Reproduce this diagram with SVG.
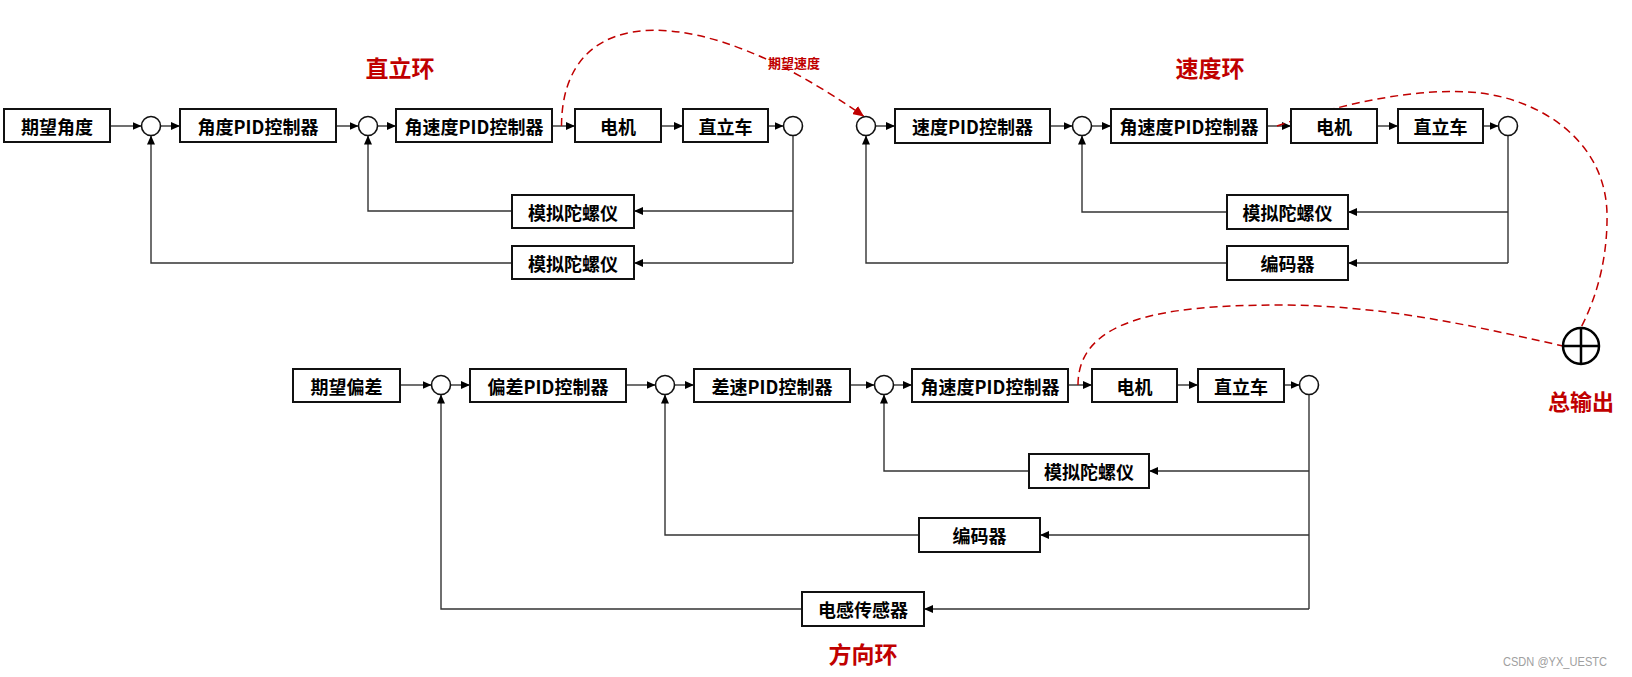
<svg xmlns="http://www.w3.org/2000/svg" width="1632" height="677" viewBox="0 0 1632 677">
<style>
.box{fill:#fff;stroke:#111;stroke-width:2}
.t{font-family:"Noto Sans CJK SC","Liberation Sans",sans-serif;font-weight:bold;font-size:18px;fill:#000;text-anchor:middle;dominant-baseline:central}
.title{font-family:"Noto Sans CJK SC","Liberation Sans",sans-serif;font-weight:bold;font-size:23px;fill:#C00000;text-anchor:middle;dominant-baseline:central}
.sum{fill:#fff;stroke:#111;stroke-width:1.6}
.ln{fill:none;stroke:#333;stroke-width:1.4}
.ar{marker-end:url(#arr)}
.dash{fill:none;stroke:#C00000;stroke-width:1.5;stroke-dasharray:8 5}
</style>
<defs>
<marker id="arr" markerUnits="userSpaceOnUse" markerWidth="9" markerHeight="8" refX="9" refY="4" orient="auto">
<path d="M0,0 L9,4 L0,8 z" fill="#000"/>
</marker>
<marker id="arrR" markerUnits="userSpaceOnUse" markerWidth="11" markerHeight="10" refX="11" refY="5" orient="auto">
<path d="M0,0 L11,5 L0,10 z" fill="#C00000"/>
</marker>
</defs>
<rect width="1632" height="677" fill="#fff"/>

<g id="titles">
<text class="title" x="400" y="67">直立环</text>
<text class="title" x="1210" y="67">速度环</text>
<text class="title" x="863" y="653">方向环</text>
<text class="title" x="1581" y="400" style="font-size:22px">总输出</text>
<text x="794" y="62.5" style="font-family:'Noto Sans CJK SC','Liberation Sans',sans-serif;font-weight:bold;font-size:13px;fill:#C00000;text-anchor:middle;dominant-baseline:central">期望速度</text>
</g>

<g id="connectors">
<!-- row 1 upright loop -->
<path class="ln ar" d="M110,126 H141.5"/>
<path class="ln ar" d="M160.5,126 H180"/>
<path class="ln ar" d="M336,126 H358.5"/>
<path class="ln ar" d="M377.5,126 H396"/>
<path class="ln ar" d="M552,126 H575"/>
<path class="ln ar" d="M661,126 H683"/>
<path class="ln ar" d="M768,126 H783.5"/>
<path class="ln" d="M793,135.5 V263"/>
<path class="ln ar" d="M793,211 H634"/>
<path class="ln ar" d="M793,263 H634"/>
<path class="ln ar" d="M512,211 H368 V135.5"/>
<path class="ln ar" d="M512,263 H151 V135.5"/>
<!-- row 1 speed loop -->
<path class="ln ar" d="M875.5,126 H895"/>
<path class="ln ar" d="M1050,126 H1072.5"/>
<path class="ln ar" d="M1091.5,126 H1111"/>
<path class="ln ar" d="M1267,126 H1291"/>
<path class="ln ar" d="M1377,126 H1398"/>
<path class="ln ar" d="M1483,126 H1498.5"/>
<path class="ln" d="M1508,135.5 V263"/>
<path class="ln ar" d="M1508,212 H1348"/>
<path class="ln ar" d="M1508,263 H1348"/>
<path class="ln ar" d="M1227,212 H1082 V135.5"/>
<path class="ln ar" d="M1227,263 H866 V135.5"/>
<!-- row 2 direction loop -->
<path class="ln ar" d="M400,385 H431.5"/>
<path class="ln ar" d="M450.5,385 H470"/>
<path class="ln ar" d="M626,385 H655.5"/>
<path class="ln ar" d="M674.5,385 H694"/>
<path class="ln ar" d="M850,385 H874.5"/>
<path class="ln ar" d="M893.5,385 H912"/>
<path class="ln ar" d="M1068,385 H1092"/>
<path class="ln ar" d="M1177,385 H1198"/>
<path class="ln ar" d="M1284,385 H1299.5"/>
<path class="ln" d="M1309,394.5 V609"/>
<path class="ln ar" d="M1309,471 H1149"/>
<path class="ln ar" d="M1309,535 H1040"/>
<path class="ln ar" d="M1309,609 H924"/>
<path class="ln ar" d="M1029,471 H884 V394.5"/>
<path class="ln ar" d="M919,535 H665 V394.5"/>
<path class="ln ar" d="M802,609 H441 V394.5"/>
<!-- red dashed links -->
<path class="dash" d="M561.5,126 C562,0 700,0 864,116.5" marker-end="url(#arrR)"/>
<path class="dash" d="M1277,126 C1340,104 1420,86 1480,93 C1540,100 1605,140 1607,213 C1608,270 1590,310 1581,327.5"/>
<path class="dash" d="M1078,385 C1078,320 1160,305 1280,305 C1380,305 1470,325 1563,346"/>
</g>

<!-- row 1 upright loop nodes -->
<g id="n_qwjd"><rect class="box" x="4" y="109" width="106" height="33"/><text class="t" x="57" y="125.5">期望角度</text></g>
<g id="s1"><circle class="sum" cx="151" cy="126" r="9.5"/></g>
<g id="n_jdpid"><rect class="box" x="180" y="109" width="156" height="33"/><text class="t" x="258" y="125.5">角度PID控制器</text></g>
<g id="s2"><circle class="sum" cx="368" cy="126" r="9.5"/></g>
<g id="n_jsdpid1"><rect class="box" x="396" y="109" width="156" height="33"/><text class="t" x="474" y="125.5">角速度PID控制器</text></g>
<g id="n_dj1"><rect class="box" x="575" y="109" width="86" height="33"/><text class="t" x="618" y="125.5">电机</text></g>
<g id="n_zlc1"><rect class="box" x="683" y="109" width="85" height="33"/><text class="t" x="725.5" y="125.5">直立车</text></g>
<g id="s3"><circle class="sum" cx="793" cy="126" r="9.5"/></g>
<g id="n_tly1a"><rect class="box" x="512" y="195" width="122" height="33"/><text class="t" x="573" y="211.5">模拟陀螺仪</text></g>
<g id="n_tly1b"><rect class="box" x="512" y="246" width="122" height="33"/><text class="t" x="573" y="262.5">模拟陀螺仪</text></g>

<!-- row 1 speed loop nodes -->
<g id="s4"><circle class="sum" cx="866" cy="126" r="9.5"/></g>
<g id="n_sdpid"><rect class="box" x="895" y="109" width="155" height="34"/><text class="t" x="972.5" y="126">速度PID控制器</text></g>
<g id="s5"><circle class="sum" cx="1082" cy="126" r="9.5"/></g>
<g id="n_jsdpid2"><rect class="box" x="1111" y="109" width="156" height="34"/><text class="t" x="1189" y="126">角速度PID控制器</text></g>
<g id="n_dj2"><rect class="box" x="1291" y="109" width="86" height="34"/><text class="t" x="1334" y="126">电机</text></g>
<g id="n_zlc2"><rect class="box" x="1398" y="109" width="85" height="34"/><text class="t" x="1440.5" y="126">直立车</text></g>
<g id="s6"><circle class="sum" cx="1508" cy="126" r="9.5"/></g>
<g id="n_tly2"><rect class="box" x="1227" y="195" width="121" height="34"/><text class="t" x="1287.5" y="212">模拟陀螺仪</text></g>
<g id="n_bmq1"><rect class="box" x="1227" y="246" width="121" height="34"/><text class="t" x="1287.5" y="263">编码器</text></g>

<!-- row 2 direction loop nodes -->
<g id="n_qwpc"><rect class="box" x="293" y="369" width="107" height="33"/><text class="t" x="346.5" y="385.5">期望偏差</text></g>
<g id="s7"><circle class="sum" cx="441" cy="385" r="9.5"/></g>
<g id="n_pcpid"><rect class="box" x="470" y="369" width="156" height="33"/><text class="t" x="548" y="385.5">偏差PID控制器</text></g>
<g id="s8"><circle class="sum" cx="665" cy="385" r="9.5"/></g>
<g id="n_cspid"><rect class="box" x="694" y="369" width="156" height="33"/><text class="t" x="772" y="385.5">差速PID控制器</text></g>
<g id="s9"><circle class="sum" cx="884" cy="385" r="9.5"/></g>
<g id="n_jsdpid3"><rect class="box" x="912" y="369" width="156" height="33"/><text class="t" x="990" y="385.5">角速度PID控制器</text></g>
<g id="n_dj3"><rect class="box" x="1092" y="369" width="85" height="33"/><text class="t" x="1134.5" y="385.5">电机</text></g>
<g id="n_zlc3"><rect class="box" x="1198" y="369" width="86" height="33"/><text class="t" x="1241" y="385.5">直立车</text></g>
<g id="s10"><circle class="sum" cx="1309" cy="385" r="9.5"/></g>
<g id="n_tly3"><rect class="box" x="1029" y="454" width="120" height="34"/><text class="t" x="1089" y="471">模拟陀螺仪</text></g>
<g id="n_bmq2"><rect class="box" x="919" y="518" width="121" height="34"/><text class="t" x="979.5" y="535">编码器</text></g>
<g id="n_dgcgq"><rect class="box" x="802" y="592" width="122" height="34"/><text class="t" x="863" y="609">电感传感器</text></g>

<!-- total output summing point -->
<g id="n_total"><circle cx="1581" cy="346" r="18" fill="#fff" stroke="#000" stroke-width="2.5"/><path d="M1563,346 H1599 M1581,328 V364" stroke="#000" stroke-width="2.5"/></g>

<text x="1607" y="661" text-anchor="end" dominant-baseline="central" textLength="104" lengthAdjust="spacingAndGlyphs" style="font-family:'Liberation Sans',sans-serif;font-size:13px;fill:#a0a0a0">CSDN @YX_UESTC</text>
</svg>
